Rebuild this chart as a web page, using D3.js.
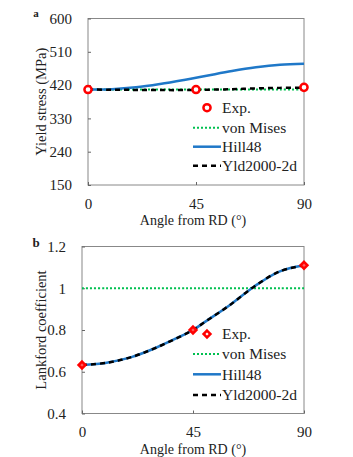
<!DOCTYPE html>
<html>
<head>
<meta charset="utf-8">
<script src="https://cdn.jsdelivr.net/npm/d3@7"></script>
<style>
  body { margin: 0; background: #fff; }
</style>
</head>
<body>
<svg id="chart" width="353" height="457"></svg>
<script>
// ================= DATA =================
const angles = [0, 10, 20, 30, 40, 45, 50, 60, 70, 80, 90];
const expAngles = [0, 45, 90];

// panel a - yield stress (MPa)
const stressTicks = [150, 240, 330, 420, 510, 600];
const stressExp = [408, 408, 414];
const stressMises = [408, 408, 408, 408, 408, 408, 408, 408, 408, 408, 408];
const stressHill = [408, 409, 414, 423, 434, 440, 446, 458, 468, 475, 478];
const stressYld = [408, 407.5, 407, 406.5, 406.5, 407, 407.5, 409, 411, 412.5, 413];

// panel b - Lankford coefficient
const rTicks = [0.4, 0.6, 0.8, 1, 1.2];
const rExp = [0.632, 0.80, 1.11];
const rMises = [1, 1, 1, 1, 1, 1, 1, 1, 1, 1, 1];
const rHill = [0.632, 0.643, 0.67, 0.715, 0.77, 0.80, 0.84, 0.92, 1.01, 1.08, 1.11];
const rYld = [0.632, 0.643, 0.67, 0.715, 0.77, 0.80, 0.84, 0.92, 1.01, 1.08, 1.11];

const xTicks = [0, 45, 90];
const legendLabels = ["Exp.", "von Mises", "Hill48", "Yld2000-2d"];

// ================= STYLES =================
const RED = "#ff0000", GREEN = "#00c050", BLUE = "#1f78c8", BLACK = "#000";
const FONT = "'Liberation Serif', 'Times New Roman', serif";
const svg = d3.select("#chart");

function panel(opt) {
    const x = d3.scaleLinear().domain([0, 90]).range([opt.left, opt.right]);
    const y = d3.scaleLinear().domain(opt.domain).range([opt.bottom, opt.top]);

    const g = svg.append("g");

    // frame
    g.append("rect")
        .attr("x", opt.left).attr("y", opt.top)
        .attr("width", opt.right - opt.left).attr("height", opt.bottom - opt.top)
        .attr("fill", "none").attr("stroke", "#888").attr("stroke-width", 1);

    // y axis (ticks inside)
    const ya = g.append("g")
        .attr("transform", "translate(" + opt.left + ",0)")
        .call(d3.axisLeft(y).tickValues(opt.ticks).tickSize(-3).tickPadding(16).tickFormat(opt.fmt));
    ya.select(".domain").remove();
    ya.selectAll("line").attr("stroke", "#666");
    ya.selectAll("text").attr("font-size", 15);

    // x axis (ticks inside)
    const xa = g.append("g")
        .attr("transform", "translate(0," + opt.bottom + ")")
        .call(d3.axisBottom(x).tickValues(xTicks).tickSize(-3).tickPadding(13));
    xa.select(".domain").remove();
    xa.selectAll("line").attr("stroke", "#666");
    xa.selectAll("text").attr("font-size", 15);

    // axis titles
    g.append("text")
        .attr("x", 193).attr("y", opt.bottom + 40)
        .attr("text-anchor", "middle").attr("font-size", 14)
        .text("Angle from RD (\u00b0)");
    g.append("text")
        .attr("transform", "translate(" + opt.ylabX + "," + ((opt.top + opt.bottom) / 2) + ")rotate(-90)")
        .attr("text-anchor", "middle").attr("font-size", 14.5)
        .text(opt.ylab);
    g.append("text")
        .attr("x", 36).attr("y", opt.letterY)
        .attr("text-anchor", "middle").attr("font-size", opt.letterSize).attr("font-weight", "bold")
        .text(opt.letter);

    const line = d3.line()
        .x((d, i) => x(angles[i]))
        .y(d => y(d))
        .curve(d3.curveCatmullRom.alpha(0.5));

    g.append("path").datum(opt.mises).attr("d", line)
        .attr("fill", "none").attr("stroke", GREEN).attr("stroke-width", 2).attr("stroke-dasharray", "2,2");
    g.append("path").datum(opt.hill).attr("d", line)
        .attr("fill", "none").attr("stroke", BLUE).attr("stroke-width", 2.5);
    g.append("path").datum(opt.yld).attr("d", line)
        .attr("fill", "none").attr("stroke", BLACK).attr("stroke-width", 2.5).attr("stroke-dasharray", "5,4");

    // experiments
    const sym = d3.symbol().type(opt.marker).size(opt.markerSize);
    g.selectAll(".exp").data(opt.exp).enter().append("path")
        .attr("transform", (d, i) => "translate(" + x(expAngles[i]) + "," + y(d) + ")")
        .attr("d", sym)
        .attr("fill", opt.markerFill).attr("stroke", RED).attr("stroke-width", 2.5);

    // legend
    const lg = g.append("g");
    const ly = opt.legendY;
    lg.append("path")
        .attr("transform", "translate(207," + ly[0] + ")")
        .attr("d", sym).attr("fill", "#fff").attr("stroke", RED).attr("stroke-width", 2.5);
    const styles = [
        {c: GREEN, w: 2, dash: "2,2"},
        {c: BLUE, w: 2.5, dash: null},
        {c: BLACK, w: 2.5, dash: "5,4"}
    ];
    styles.forEach((s, i) => {
        lg.append("line")
            .attr("x1", 193).attr("x2", 221)
            .attr("y1", ly[i + 1]).attr("y2", ly[i + 1])
            .attr("stroke", s.c).attr("stroke-width", s.w)
            .attr("stroke-dasharray", s.dash);
    });
    legendLabels.forEach((t, i) => {
        lg.append("text")
            .attr("x", 222).attr("y", ly[i]).attr("dy", "0.35em")
            .attr("font-size", 15.5).text(t);
    });
}

panel({
    left: 88, right: 304, top: 18.5, bottom: 185,
    domain: [150, 600], ticks: stressTicks, fmt: d3.format("d"),
    ylab: "Yield stress (MPa)", ylabX: 46,
    letter: "a", letterY: 17, letterSize: 11,
    mises: stressMises, hill: stressHill, yld: stressYld, exp: stressExp,
    marker: d3.symbolCircle, markerSize: 40, markerFill: "#fff",
    legendY: [107.7, 127.7, 146.7, 165.7]
});

panel({
    left: 82, right: 304, top: 246.5, bottom: 413.5,
    domain: [0.4, 1.2], ticks: rTicks, fmt: d => String(d),
    ylab: "Lankford coefficient", ylabX: 46,
    letter: "b", letterY: 247, letterSize: 13,
    mises: rMises, hill: rHill, yld: rYld, exp: rExp,
    marker: d3.symbolDiamond2, markerSize: 30, markerFill: "#ff6060",
    legendY: [334, 354, 374.3, 395]
});

// all text in a Times-like serif
svg.selectAll("text")
    .attr("font-family", FONT)
    .style("font-family", FONT)
    .attr("fill", "#222");
</script>
</body>
</html>
